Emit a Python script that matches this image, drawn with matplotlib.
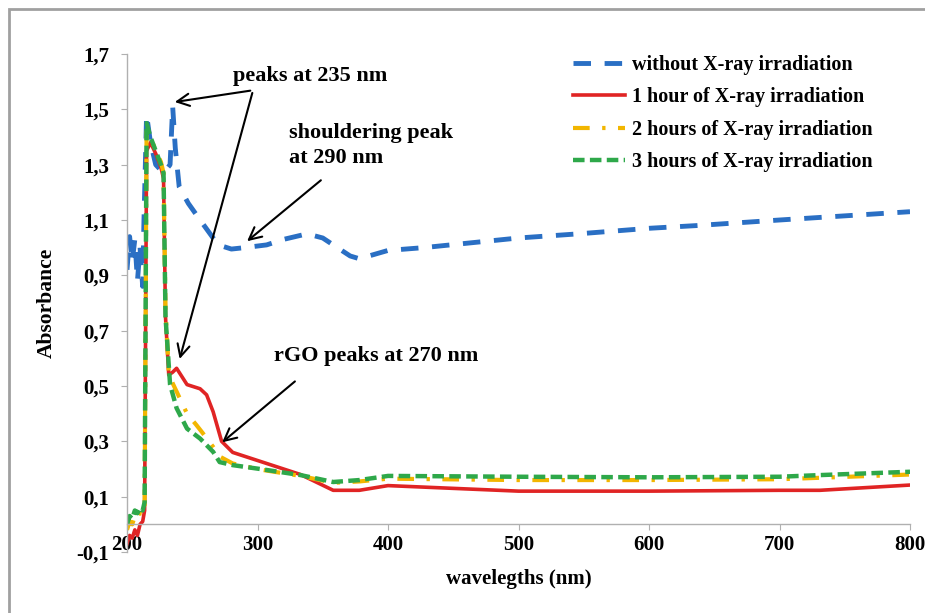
import numpy as np
import matplotlib
matplotlib.use("Agg")
import matplotlib.pyplot as plt
from matplotlib.patches import Rectangle
from matplotlib.ticker import FuncFormatter

# data (wavelength nm, absorbance)
wl_none = [200, 202, 204, 206, 208, 210, 212, 213, 215, 218, 222, 228, 233, 235,
           237, 240, 247, 256, 266, 270, 280, 290, 307, 320, 338, 350, 358, 371,
           378, 400, 427, 500, 546, 600, 637, 700, 750, 800]
abs_none = [0.92, 1.04, 0.95, 1.03, 0.88, 1.0, 0.86, 1.1, 1.48, 1.38, 1.3, 1.27, 1.30, 1.51,
            1.36, 1.22, 1.16, 1.10, 1.035, 1.01, 0.995, 1.0, 1.01, 1.03, 1.05, 1.035, 1.01, 0.97,
            0.96, 0.99, 1.0, 1.035, 1.05, 1.07, 1.08, 1.10, 1.115, 1.13]

wl_1h = [200, 202, 204, 206, 208, 210, 212, 213.5, 215, 218, 222, 226, 228, 229.5,
         232, 235, 238, 246, 256, 261, 266, 272.5, 281, 307, 333, 358, 378, 400,
         450, 500, 600, 700, 731, 800]
abs_1h = [-0.07, -0.04, -0.05, -0.02, -0.04, 0.0, 0.01, 0.05, 1.35, 1.38, 1.34, 1.29, 1.25, 0.75,
          0.54, 0.55, 0.564, 0.505, 0.49, 0.468, 0.407, 0.30, 0.26, 0.22, 0.18, 0.123, 0.123, 0.14,
          0.13, 0.12, 0.12, 0.123, 0.123, 0.142]

wl_2h = [200, 202, 204, 206, 208, 210, 212, 213.5, 215, 218, 222, 226, 228, 229.5,
         232, 235, 238, 246, 253, 258, 266, 271, 281, 302, 333, 358, 378, 400,
         500, 600, 700, 800]
abs_2h = [-0.02, 0.01, 0.0, 0.03, 0.02, 0.04, 0.03, 0.06, 1.42, 1.40, 1.35, 1.31, 1.27, 0.78,
          0.55, 0.51, 0.48, 0.40, 0.36, 0.33, 0.28, 0.245, 0.22, 0.198, 0.175, 0.15, 0.155, 0.165,
          0.16, 0.16, 0.163, 0.18]

wl_3h = [200, 202, 204, 206, 208, 210, 212, 213.5, 215, 218, 222, 226, 228, 229.5,
         233, 238, 246, 256, 266, 271, 281, 302, 333, 358, 378, 400, 500, 600,
         700, 731, 800]
abs_3h = [0.0, 0.03, 0.02, 0.05, 0.04, 0.06, 0.05, 0.08, 1.45, 1.40, 1.35, 1.30, 1.27, 0.75,
          0.505, 0.42, 0.346, 0.31, 0.262, 0.225, 0.214, 0.20, 0.178, 0.153, 0.16, 0.175, 0.172, 0.17,
          0.172, 0.178, 0.19]

labels = ["without X-ray irradiation", "1 hour of X-ray irradiation",
          "2 hours of X-ray irradiation", "3 hours of X-ray irradiation"]

x_ticks = [200, 300, 400, 500, 600, 700, 800]
y_ticks = [-0.1, 0.1, 0.3, 0.5, 0.7, 0.9, 1.1, 1.3, 1.5, 1.7]

plt.rcParams['font.family'] = ['Liberation Serif', 'DejaVu Serif']
plt.rcParams['font.weight'] = 'bold'

fig = plt.figure(figsize=(9.25, 6.13), dpi=100)
ax = fig.add_axes([127 / 925, 61 / 613, 783 / 925, 498 / 613])

# grey outer chart border (right/bottom run off the image)
fig.patches.append(Rectangle((9 / 925, -0.05), 1.1, (613 - 9) / 613 + 0.05,
                             transform=fig.transFigure, fill=False,
                             edgecolor='#a0a0a0', linewidth=2.0))

ax.plot(wl_none, abs_none, color='#2a6fc4', lw=3.5, dashes=(3.6, 2.8), label=labels[0])
ax.plot(wl_1h, abs_1h, color='#e02424', lw=2.6, label=labels[1])
ax.plot(wl_2h, abs_2h, color='#f2b600', lw=3.0, dashes=(4, 3, 0.8, 3), label=labels[2])
ax.plot(wl_3h, abs_3h, color='#2ea84a', lw=3.2, dashes=(2.6, 1.2), label=labels[3])

ax.set_xlim(200, 800)
ax.set_ylim(-0.1, 1.7)
ax.set_xticks(x_ticks)
ax.set_yticks(y_ticks)
ax.yaxis.set_major_formatter(FuncFormatter(lambda v, p: f"{v:.1f}".replace('.', ',')))

for s in ['top', 'right']:
    ax.spines[s].set_visible(False)
ax.spines['bottom'].set_position(('data', 0))
for s in ['left', 'bottom']:
    ax.spines[s].set_color('#b0b0b0')
    ax.spines[s].set_linewidth(1.0)
ax.tick_params(axis='both', colors='#b0b0b0', labelcolor='black', labelsize=15, length=4)
ax.tick_params(axis='x', pad=4)
ax.tick_params(axis='y', pad=9)

ax.set_ylabel('Absorbance', fontsize=15.5, fontweight='bold', labelpad=14)
ax.set_xlabel('wavelegths (nm)', fontsize=15, fontweight='bold')
ax.xaxis.set_label_coords(0.5, -0.035)

leg = ax.legend(loc='upper left', bbox_to_anchor=(0.546, 1.035), frameon=False,
                fontsize=14.5, handlelength=2.6, handletextpad=0.35, labelspacing=0.62)

arrow_kw = dict(arrowstyle='->', color='black', lw=1.5, mutation_scale=22)
# peaks at 235 nm
ax.text(340, 1.62, 'peaks at 235 nm', fontsize=16, fontweight='bold', ha='center', va='center')
ax.annotate('', xy=(234.5, 1.525), xytext=(296.6, 1.569), arrowprops=arrow_kw)
ax.annotate('', xy=(239.8, 0.588), xytext=(296.6, 1.569), arrowprops=arrow_kw)
# shouldering peak
ax.text(324, 1.37, 'shouldering peak\nat 290 nm', fontsize=16, fontweight='bold',
        ha='left', va='center', linespacing=1.3)
ax.annotate('', xy=(290.4, 1.017), xytext=(350.2, 1.25), arrowprops=arrow_kw)
# rGO peaks
ax.text(313, 0.607, 'rGO peaks at 270 nm', fontsize=16, fontweight='bold', ha='left', va='center')
ax.annotate('', xy=(271.3, 0.29), xytext=(330.3, 0.523), arrowprops=arrow_kw)

fig.savefig('out.png', dpi=100)
